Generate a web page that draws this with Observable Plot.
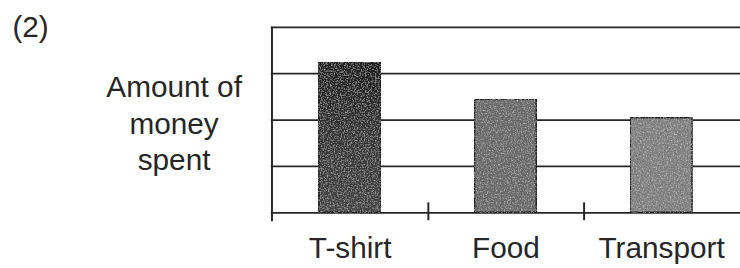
<!DOCTYPE html>
<html>
<head>
<meta charset="utf-8">
<script src="https://cdn.jsdelivr.net/npm/d3@7"></script>
<script src="https://cdn.jsdelivr.net/npm/@observablehq/plot@0.6"></script>
<style>
  html, body { margin: 0; padding: 0; background: #fff; overflow: hidden; width: 740px; height: 268px; }
  #chart svg { display: block; }
</style>
</head>
<body>
<div id="chart"></div>
<script>
// ---- data ----
const categories = ["T-shirt", "Food", "Transport"];
const amounts = [3.23, 2.44, 2.04];
const gridValues = [0, 1, 2, 3, 4];
const yLabel = "Amount of\nmoney\nspent";
const panelLabel = "(2)";

// ---- styles ----
const barFills = ["url(#gradT)", "#6c6c6c", "#828282"];
const ink = "#262626";
const font = "'Liberation Sans', Arial, sans-serif";

const W = 746, H = 268;
const mL = 273, mT = 27, mB = 54, mR = 0;
const bw = (W - mL - mR) / categories.length;
const barInset = (bw - 63) / 2;

const data = categories.map((c, i) => ({category: c, amount: amounts[i], fill: barFills[i]}));

const chart = Plot.plot({
  width: W,
  height: H,
  marginLeft: mL,
  marginTop: mT,
  marginBottom: mB,
  marginRight: mR,
  style: {fontFamily: font, background: "#fff", overflow: "visible"},
  x: {type: "band", domain: categories, padding: 0, axis: null},
  y: {domain: [0, 4], axis: null},
  marks: [
    Plot.ruleY(gridValues, {y: d => d, stroke: ink, strokeWidth: 1.8}),
    Plot.barY(data, {
      x: "category", y: "amount", fill: "fill",
      stroke: "#1e1e1e", strokeWidth: 1.5,
      insetLeft: barInset, insetRight: barInset
    }),
    // left axis line
    Plot.ruleX([categories[0]], {x: d => d, dx: -bw / 2, y1: 4, y2: 0, insetBottom: -9, stroke: ink, strokeWidth: 2}),
    // separator ticks between categories
    Plot.ruleX(categories.slice(0, -1), {x: d => d, dx: bw / 2, y1: 0, y2: 0, insetTop: -10, insetBottom: -8, stroke: ink, strokeWidth: 2}),
    // category labels
    Plot.text(data, {x: "category", frameAnchor: "bottom", text: "category", lineAnchor: "bottom", dy: 46, fontSize: 30, fill: ink}),
    // y label
    Plot.text([yLabel], {frameAnchor: "left", text: d => d, dx: -98, dy: 2, textAnchor: "middle", lineAnchor: "middle", lineHeight: 1.23, fontSize: 30, fill: ink}),
    // panel label
    Plot.text([panelLabel], {frameAnchor: "top-left", text: d => d, dx: -261, dy: 10, textAnchor: "start", lineAnchor: "bottom", fontSize: 30, fill: ink})
  ]
});

// defs: gradient + grain filter
const svg = d3.select(chart);
const defs = svg.insert("defs", ":first-child");
const g = defs.append("linearGradient").attr("id", "gradT").attr("x1", 0).attr("y1", 0).attr("x2", 0).attr("y2", 1);
g.append("stop").attr("offset", "0%").attr("stop-color", "#1e1e1e");
g.append("stop").attr("offset", "45%").attr("stop-color", "#363636");
g.append("stop").attr("offset", "100%").attr("stop-color", "#474747");
const f = defs.append("filter").attr("id", "grain").attr("x", 0).attr("y", 0).attr("width", 1).attr("height", 1);
// light speckles
f.append("feTurbulence").attr("type", "fractalNoise").attr("baseFrequency", 0.7).attr("numOctaves", 2).attr("seed", 3).attr("result", "noise");
f.append("feColorMatrix").attr("in", "noise").attr("type", "matrix")
  .attr("values", "0 0 0 0 1  0 0 0 0 1  0 0 0 0 1  2.2 0 0 0 -1.05").attr("result", "light");
f.append("feComposite").attr("in", "light").attr("in2", "SourceGraphic").attr("operator", "in").attr("result", "light2");
f.append("feComponentTransfer").attr("in", "light2").attr("result", "light3")
  .append("feFuncA").attr("type", "linear").attr("slope", 0.45);
// dark speckles
f.append("feTurbulence").attr("type", "fractalNoise").attr("baseFrequency", 0.7).attr("numOctaves", 2).attr("seed", 11).attr("result", "noiseD");
f.append("feColorMatrix").attr("in", "noiseD").attr("type", "matrix")
  .attr("values", "0 0 0 0 0  0 0 0 0 0  0 0 0 0 0  2.2 0 0 0 -1.05").attr("result", "dark");
f.append("feComposite").attr("in", "dark").attr("in2", "SourceGraphic").attr("operator", "in").attr("result", "dark2");
f.append("feComponentTransfer").attr("in", "dark2").attr("result", "dark3")
  .append("feFuncA").attr("type", "linear").attr("slope", 0.45);
const m = f.append("feMerge");
m.append("feMergeNode").attr("in", "SourceGraphic");
m.append("feMergeNode").attr("in", "light3");
m.append("feMergeNode").attr("in", "dark3");
svg.selectAll("g[aria-label='bar'] rect").attr("filter", "url(#grain)");

document.getElementById("chart").appendChild(chart);
</script>
</body>
</html>
